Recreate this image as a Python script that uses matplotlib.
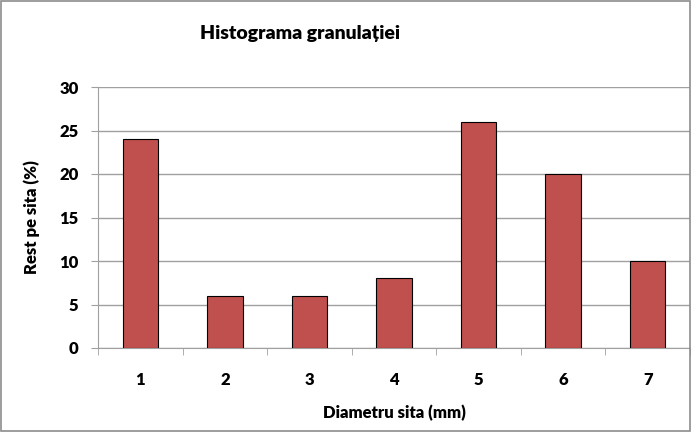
import matplotlib.pyplot as plt
import matplotlib.patches as mpatches

# Data
diametre = [1, 2, 3, 4, 5, 6, 7]
rest_pe_sita = [24, 6, 6, 8, 26, 20, 10]
y_ticks = [0, 5, 10, 15, 20, 25, 30]

plt.rcParams['font.family'] = ['Lato', 'DejaVu Sans']

fig = plt.figure(figsize=(6.92, 4.32), dpi=100)
ax = fig.add_axes([98 / 692, 1 - 348 / 432, 592 / 692, 261 / 432])

# Figure border
fig.patches.append(mpatches.Rectangle((0.002, 0.003), 0.995, 0.994, transform=fig.transFigure,
                                      fill=False, edgecolor='#8c8c8c', linewidth=1.2))

ax.bar(diametre, rest_pe_sita, width=0.42, color='#C0504D', edgecolor='black', linewidth=0.8, zorder=3)

ax.set_xlim(0.5, 7.5)
ax.set_ylim(0, 30)
ax.set_yticks(y_ticks)
ax.set_xticks(diametre)
ax.set_xticks([x + 0.5 for x in range(0, 8)], minor=True)
ax.grid(axis='y', color='#a0a0a0', linewidth=1, zorder=0)

for side in ['top', 'right']:
    ax.spines[side].set_visible(False)
ax.spines['left'].set_color('#a0a0a0')
ax.spines['bottom'].set_color('#a0a0a0')

ax.tick_params(axis='x', which='major', length=0, pad=17, labelsize=12)
ax.tick_params(axis='x', which='minor', length=5, color='#a0a0a0', direction='out')
ax.tick_params(axis='y', length=5, color='#a0a0a0', direction='out', pad=9, labelsize=12)
for lbl in ax.get_xticklabels() + ax.get_yticklabels():
    lbl.set_fontweight('heavy')

ax.set_xlabel('Diametru sita (mm)', fontsize=12, fontweight='heavy', labelpad=12)
ax.set_ylabel('Rest pe sita (%)', fontsize=12, fontweight='heavy', labelpad=14)
fig.text(300 / 692, 1 - 33 / 432, 'Histograma granulației', ha='center', va='center',
         fontsize=14, fontweight='heavy')

fig.savefig('out.png', dpi=100)
